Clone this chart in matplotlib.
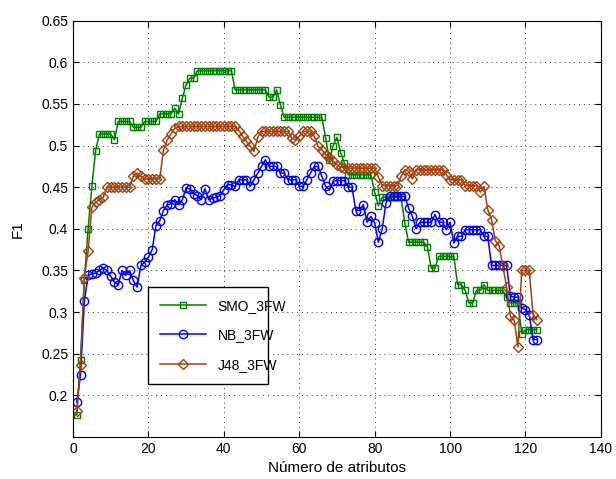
import matplotlib
matplotlib.use('Agg')
import matplotlib.pyplot as plt
import numpy as np

plt.rcParams['font.family'] = ['Liberation Sans', 'DejaVu Sans']

# number of attributes kept, 1..123
n_attr = np.arange(1, 124)

smo_3fw = [0.177, 0.243, 0.338, 0.400, 0.451, 0.494, 0.514, 0.514, 0.514, 0.514,
           0.507, 0.529, 0.529, 0.529, 0.529, 0.522, 0.522, 0.522, 0.529, 0.529,
           0.529, 0.529, 0.538, 0.538, 0.538, 0.538, 0.545, 0.538, 0.557, 0.573,
           0.581, 0.581, 0.590, 0.590, 0.590, 0.590, 0.590, 0.590, 0.590, 0.590,
           0.590, 0.590, 0.567, 0.567, 0.567, 0.567, 0.567, 0.567, 0.567, 0.567,
           0.567, 0.558, 0.558, 0.567, 0.549, 0.534, 0.534, 0.534, 0.534, 0.534,
           0.534, 0.534, 0.534, 0.534, 0.534, 0.534, 0.509, 0.483, 0.500, 0.510,
           0.491, 0.479, 0.465, 0.465, 0.465, 0.465, 0.465, 0.465, 0.465, 0.444,
           0.428, 0.438, 0.438, 0.438, 0.438, 0.438, 0.438, 0.407, 0.384, 0.384,
           0.384, 0.384, 0.384, 0.378, 0.353, 0.353, 0.367, 0.367, 0.367, 0.367,
           0.367, 0.333, 0.333, 0.326, 0.311, 0.311, 0.326, 0.326, 0.333, 0.326,
           0.326, 0.326, 0.326, 0.326, 0.318, 0.311, 0.311, 0.311, 0.274, 0.279,
           0.279, 0.279, 0.279]

nb_3fw = [0.192, 0.224, 0.313, 0.344, 0.346, 0.347, 0.350, 0.353, 0.350, 0.343,
          0.336, 0.333, 0.350, 0.344, 0.350, 0.338, 0.330, 0.356, 0.360, 0.366,
          0.375, 0.404, 0.410, 0.422, 0.429, 0.430, 0.435, 0.429, 0.435, 0.449,
          0.448, 0.442, 0.440, 0.435, 0.448, 0.435, 0.437, 0.438, 0.440, 0.447,
          0.453, 0.453, 0.451, 0.459, 0.459, 0.459, 0.451, 0.459, 0.467, 0.475,
          0.483, 0.475, 0.475, 0.475, 0.467, 0.467, 0.459, 0.459, 0.459, 0.451,
          0.451, 0.459, 0.467, 0.475, 0.475, 0.463, 0.451, 0.447, 0.457, 0.458,
          0.458, 0.458, 0.450, 0.450, 0.422, 0.422, 0.429, 0.408, 0.415, 0.407,
          0.384, 0.400, 0.431, 0.439, 0.439, 0.439, 0.439, 0.439, 0.425, 0.415,
          0.400, 0.408, 0.408, 0.408, 0.408, 0.417, 0.408, 0.408, 0.399, 0.408,
          0.383, 0.391, 0.391, 0.399, 0.399, 0.399, 0.399, 0.399, 0.391, 0.391,
          0.356, 0.356, 0.356, 0.356, 0.356, 0.319, 0.318, 0.318, 0.305, 0.303,
          0.297, 0.267, 0.267]

j48_3fw = [0.181, 0.237, 0.341, 0.373, 0.426, 0.432, 0.435, 0.438, 0.450, 0.450,
           0.450, 0.450, 0.450, 0.450, 0.450, 0.463, 0.467, 0.463, 0.460, 0.460,
           0.460, 0.460, 0.460, 0.495, 0.507, 0.514, 0.521, 0.523, 0.523, 0.523,
           0.523, 0.523, 0.523, 0.523, 0.523, 0.523, 0.523, 0.523, 0.523, 0.523,
           0.523, 0.523, 0.523, 0.518, 0.511, 0.505, 0.499, 0.493, 0.510, 0.517,
           0.517, 0.517, 0.517, 0.517, 0.517, 0.517, 0.517, 0.509, 0.507, 0.511,
           0.517, 0.517, 0.517, 0.511, 0.499, 0.495, 0.489, 0.486, 0.481, 0.477,
           0.474, 0.473, 0.473, 0.473, 0.473, 0.473, 0.473, 0.473, 0.473, 0.473,
           0.462, 0.452, 0.452, 0.452, 0.452, 0.452, 0.463, 0.471, 0.469, 0.460,
           0.471, 0.471, 0.471, 0.471, 0.471, 0.471, 0.471, 0.471, 0.465, 0.459,
           0.459, 0.459, 0.459, 0.452, 0.452, 0.452, 0.452, 0.444, 0.451, 0.423,
           0.411, 0.386, 0.380, 0.355, 0.330, 0.295, 0.290, 0.258, 0.350, 0.350,
           0.350, 0.297, 0.291]

fig = plt.figure(figsize=(6.16, 4.79), dpi=100)
ax = fig.add_axes([0.1185, 0.0877, 0.857, 0.869])

ax.plot(n_attr, smo_3fw, '-s', color='#008000', lw=1.1, ms=4,
        mfc='none', mew=1.0, label='SMO_3FW')
ax.plot(n_attr, nb_3fw, '-o', color='#0000ff', lw=1.1, ms=6,
        mfc='none', mew=1.0, label='NB_3FW')
ax.plot(n_attr, j48_3fw, '-D', color='#a3400c', lw=1.1, ms=5.5,
        mfc='none', mew=1.0, label='J48_3FW')

ax.set_xlim(0, 140)
ax.set_ylim(0.15, 0.65)
ax.set_xticks(np.arange(0, 141, 20))
yt = [0.2, 0.25, 0.3, 0.35, 0.4, 0.45, 0.5, 0.55, 0.6, 0.65]
ax.set_yticks(yt)
ax.set_yticklabels([('%g' % v) for v in yt])
ax.tick_params(direction='in', top=True, right=True, labelsize=10, length=4)
ax.grid(True, linestyle=(0, (1, 4)), color='k', lw=0.7, alpha=0.8)

ax.set_xlabel('Número de atributos', fontsize=11, labelpad=4)
ax.set_ylabel('F1', fontsize=11, labelpad=12)

leg = ax.legend(loc='lower left', bbox_to_anchor=(0.142, 0.127, 0.227, 0.231),
                mode='expand', borderaxespad=0, fontsize=10, fancybox=False,
                framealpha=1, edgecolor='k', handlelength=3.3, borderpad=0.9,
                labelspacing=1.1)
leg.get_frame().set_linewidth(1.0)

fig.savefig('out.png', dpi=100)
